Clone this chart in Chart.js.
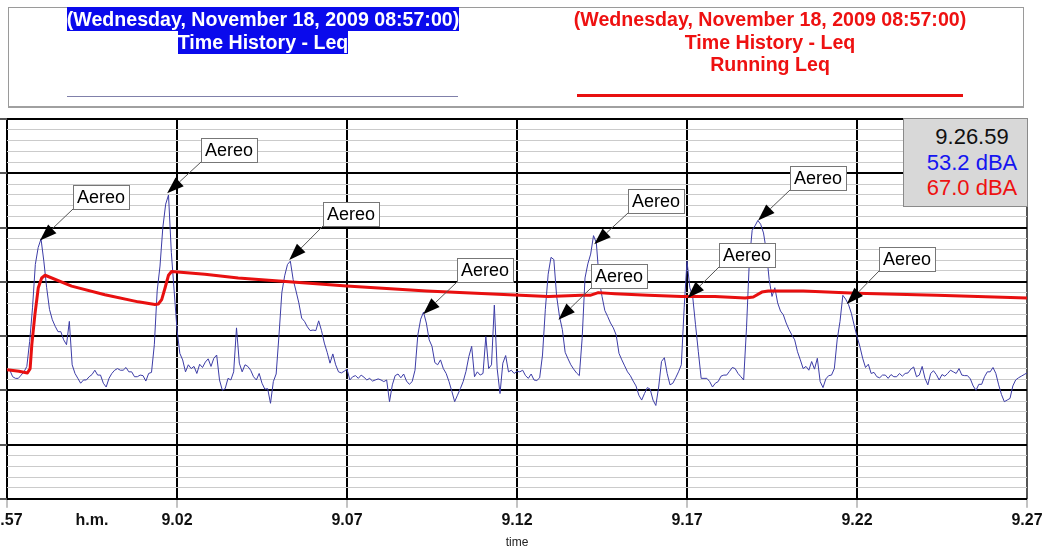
<!DOCTYPE html>
<html lang="en">
<head>
  <meta charset="UTF-8" />
  <title>Time History - Leq</title>
  <style>
    body {
      margin: 0;
      width: 1048px;
      height: 552px;
      overflow: hidden;
      background: #fff;
      font-family: 'Liberation Sans', Arial, sans-serif;
    }
    #chart { position: absolute; left: 0; top: 0; }
    .frame {
      position: absolute;
      left: 8px; top: 7px;
      width: 1016px; height: 101px;
      box-sizing: border-box;
      border: 1px solid #9a9a9a;
      border-bottom: 2px solid #a0a0a0;
    }
    .blk {
      position: absolute;
      top: 8px;
      width: 480px;
      text-align: center;
      font-size: 19.6px;
      font-weight: bold;
      line-height: 22.5px;
    }
    .blk.blue { left: 23px; color: #fff; }
    .blk.blue span { background: #0a0aec; padding: 1px 0; }
    .blk.red { left: 530px; color: #ee1111; }
    .ln { position: absolute; }
    .ln.blue { left: 67px; top: 96px; width: 391px; height: 1px; background: #8080aa; }
    .ln.red { left: 577px; top: 94px; width: 386px; height: 3px; background: #e81010; }
    .info {
      position: absolute;
      left: 903px; top: 118px;
      width: 125px; height: 89px;
      box-sizing: border-box;
      background: #d8d8d8;
      border: 1px solid #8a8a8a;
      padding: 5px 0 0 13px;
      text-align: center;
      font-size: 22px;
      line-height: 25.5px;
    }
  </style>
</head>
<body>
  <canvas id="chart" width="1048" height="552"></canvas>

  <div class="frame"></div>
  <div class="blk blue"><span>(Wednesday, November 18, 2009 08:57:00)</span><br><span>Time History - Leq</span></div>
  <div class="blk red">(Wednesday, November 18, 2009 08:57:00)<br>Time History - Leq<br>Running Leq</div>
  <div class="ln blue"></div>
  <div class="ln red"></div>
  <div class="info">
    <div style="color:#111">9.26.59</div>
    <div style="color:#1515f0">53.2 dBA</div>
    <div style="color:#ee1111">67.0 dBA</div>
  </div>

  <script src="https://cdn.jsdelivr.net/npm/chart.js"></script>
  <script>
    // x axis: minutes after 8.57, ticks every 5 min
    const xTickLabels = ['8.57', '9.02', '9.07', '9.12', '9.17', '9.22', '9.27'];

    // Leq time history, one value every 5 s (dBA)
    const sampleSeconds = 5;
    const leq = [
      53.9, 53.7, 52.5, 52.2, 52.2, 52.8, 53.4, 54.4, 59.0, 65.2,
      73.2, 76.3, 77.9, 73.8, 68.9, 64.9, 63.0, 61.8, 60.8, 60.8,
      59.3, 58.4, 62.7, 54.7, 53.1, 52.2, 51.3, 51.9, 51.9, 52.5,
      52.9, 53.7, 52.8, 52.8, 51.3, 50.6, 52.2, 53.1, 53.7, 54.0,
      53.7, 53.7, 54.2, 53.4, 53.4, 52.5, 52.5, 52.8, 52.7, 51.7,
      53.1, 53.3, 58.4, 68.3, 72.9, 80.0, 84.3, 86.0, 75.4, 68.3,
      61.2, 56.8, 55.6, 53.4, 54.7, 54.0, 54.4, 53.1, 54.8, 54.2,
      55.2, 55.8, 54.4, 55.9, 56.5, 51.9, 50.0, 50.3, 52.2, 51.9,
      53.4, 61.5, 55.0, 53.4, 54.7, 54.4, 53.7, 52.5, 51.9, 53.1,
      51.3, 50.2, 50.3, 47.6, 51.6, 53.0, 60.2, 68.0, 71.1, 73.2,
      73.8, 70.4, 68.3, 66.1, 63.3, 62.7, 61.7, 61.0, 61.1, 61.0,
      62.8, 61.0, 58.7, 57.0, 55.0, 56.7, 54.7, 53.4, 53.2, 53.5,
      53.9, 51.9, 52.5, 52.7, 52.2, 52.8, 52.4, 51.9, 52.2, 51.7,
      51.9, 52.1, 51.9, 51.6, 51.9, 47.9, 51.0, 52.7, 53.0, 52.3,
      53.0, 51.7, 51.1, 51.6, 53.7, 60.2, 63.1, 64.4, 62.4, 59.3,
      58.1, 55.1, 54.7, 55.6, 54.0, 53.1, 51.6, 49.8, 47.9, 49.1,
      50.3, 51.6, 53.5, 56.2, 58.1, 52.5, 53.4, 52.8, 53.1, 59.9,
      54.0, 54.7, 65.7, 54.0, 49.4, 55.0, 56.4, 53.4, 53.7, 53.1,
      53.5, 53.4, 53.7, 52.7, 52.2, 53.0, 51.9, 51.8, 52.3, 56.5,
      64.9, 71.4, 74.5, 74.1, 67.3, 63.6, 61.2, 57.0, 55.8, 54.7,
      53.9, 53.2, 52.7, 59.6, 70.7, 73.3, 75.1, 78.5, 77.2, 70.4,
      67.3, 64.7, 63.6, 62.4, 61.5, 60.2, 56.8, 55.6, 54.5, 53.4,
      52.7, 51.7, 50.8, 49.1, 48.2, 49.4, 50.5, 50.2, 48.2, 47.2,
      50.6, 55.3, 56.0, 53.1, 51.0, 51.3, 52.3, 53.4, 54.7, 65.2,
      73.8, 68.9, 67.3, 62.1, 57.1, 52.2, 52.2, 52.2, 51.6, 50.6,
      51.3, 51.6, 52.6, 52.8, 52.8, 53.5, 54.2, 54.0, 53.1, 52.5,
      51.9, 61.5, 73.8, 79.5, 80.3, 81.3, 80.6, 79.0, 75.7, 70.4,
      67.3, 68.9, 66.1, 64.6, 63.9, 62.4, 61.2, 60.2, 59.3, 57.1,
      55.6, 54.0, 54.4, 53.7, 55.3, 53.9, 55.9, 51.6, 50.5, 52.1,
      52.7, 52.8, 54.0, 59.3, 62.7, 67.5, 66.8, 65.8, 64.2, 62.0,
      59.9, 58.1, 55.9, 54.2, 54.8, 53.1, 53.3, 52.5, 52.3, 52.8,
      52.8, 52.2, 52.9, 52.5, 52.5, 53.1, 52.6, 53.1, 53.2, 53.9,
      54.3, 52.5, 52.8, 54.4, 52.2, 51.0, 53.1, 53.6, 52.9, 51.9,
      52.9, 52.6, 53.1, 53.7, 53.4, 53.1, 54.0, 52.8, 52.7, 52.7,
      52.1, 50.8, 50.0, 51.1, 51.1, 52.5, 53.4, 53.4, 54.2, 53.1,
      51.0, 49.2, 47.9, 48.2, 48.5, 50.8, 51.9, 52.3, 52.6, 52.9,
      53.2
    ];

    // Running Leq (minutes, dBA)
    const runMin = [0, 0.35, 0.6, 0.68, 0.73, 0.82, 0.92, 1.02, 1.12, 1.9, 2.88, 3.86, 4.35,
      4.45, 4.55, 4.65, 4.75, 4.84, 5.82, 6.8, 9.99, 12.34, 15.09, 15.92, 16.9, 17.15,
      17.39, 17.88, 18.86, 19.84, 20.82, 21.71, 21.95, 22.2, 22.39, 23.42, 24.99, 27.34, 30];
    const runLeq = [53.8, 53.5, 53.2, 54.0, 58.4, 63.9, 68.9, 70.7, 71.2, 69.2, 67.6, 66.3, 65.8,
      65.9, 66.7, 68.9, 71.2, 71.9, 71.4, 70.7, 69.2, 68.3, 67.5, 67.3, 67.5, 67.5,
      68.0, 67.8, 67.5, 67.3, 67.3, 67.0, 67.2, 68.1, 68.3, 68.3, 67.9, 67.5, 67.0];

    // "Aereo" markers: arrow tip and label corner (minutes, dBA)
    const aereoTipMin = [0.97, 4.71, 8.30, 12.24, 17.27, 16.22, 20.02, 22.09, 24.70];
    const aereoTipLeq = [77.6, 86.3, 74.0, 64.0, 76.9, 63.0, 67.0, 81.3, 65.9];
    const aereoBoxMin = [1.94, 5.71, 9.29, 13.24, 18.26, 17.18, 20.94, 23.03, 25.65];
    const aereoBoxLeq = [83.5, 92.0, 80.3, 70.0, 82.7, 68.8, 72.7, 87.0, 72.0];

    const FONT = "'Liberation Sans', Arial, sans-serif";

    const aereoPlugin = {
      id: 'aereo',
      afterDatasetsDraw(chart) {
        const { ctx, scales: { x, y } } = chart;
        ctx.save();
        ctx.font = '18px ' + FONT;
        aereoTipMin.forEach((t, i) => {
          const tx = x.getPixelForValue(t), ty = y.getPixelForValue(aereoTipLeq[i]);
          const bx = Math.round(x.getPixelForValue(aereoBoxMin[i]));
          const by = Math.round(y.getPixelForValue(aereoBoxLeq[i]));
          const a = Math.atan2(ty - by, tx - bx);
          const hl = 17, hw = 6;
          const hx = tx - hl * Math.cos(a), hy = ty - hl * Math.sin(a);
          ctx.strokeStyle = '#555';
          ctx.lineWidth = 1;
          ctx.beginPath();
          ctx.moveTo(bx, by);
          ctx.lineTo(hx, hy);
          ctx.stroke();
          ctx.fillStyle = '#000';
          ctx.beginPath();
          ctx.moveTo(tx, ty);
          ctx.lineTo(hx + hw * Math.sin(a), hy - hw * Math.cos(a));
          ctx.lineTo(hx - hw * Math.sin(a), hy + hw * Math.cos(a));
          ctx.closePath();
          ctx.fill();
          const w = 56, h = 24;
          ctx.fillStyle = '#fff';
          ctx.fillRect(bx, by - h, w, h);
          ctx.strokeStyle = '#777';
          ctx.strokeRect(bx + 0.5, by - h + 0.5, w, h);
          ctx.fillStyle = '#000';
          ctx.textAlign = 'center';
          ctx.textBaseline = 'middle';
          ctx.fillText('Aereo', bx + w / 2, by - h / 2 + 1);
        });
        ctx.restore();
      },
      afterDraw(chart) {
        // unit label between the first two time ticks
        const { ctx, scales: { x } } = chart;
        ctx.save();
        ctx.font = 'bold 16px ' + FONT;
        ctx.fillStyle = '#111';
        ctx.textAlign = 'center';
        ctx.textBaseline = 'middle';
        ctx.fillText('h.m.', x.getPixelForValue(2.5), x.top + 9 + 3 + 9.6);
        ctx.restore();
      }
    };

    new Chart(document.getElementById('chart'), {
      type: 'line',
      data: {
        datasets: [
          {
            label: 'Running Leq',
            data: runMin.map((t, i) => ({ x: t, y: runLeq[i] })),
            borderColor: '#e81010',
            borderWidth: 3,
            borderJoinStyle: 'round',
            pointRadius: 0,
            tension: 0
          },
          {
            label: 'Leq',
            data: leq.map((v, i) => ({ x: i * sampleSeconds / 60, y: v })),
            borderColor: '#3c3ca6',
            borderWidth: 1,
            pointRadius: 0,
            tension: 0
          }
        ]
      },
      options: {
        responsive: false,
        animation: false,
        devicePixelRatio: 1,
        layout: { padding: { top: 119, right: 21, left: 0, bottom: 0 } },
        plugins: { legend: { display: false }, tooltip: { enabled: false } },
        scales: {
          x: {
            type: 'linear',
            min: 0,
            max: 30,
            ticks: {
              stepSize: 5,
              autoSkip: false,
              maxRotation: 0,
              padding: 3,
              color: '#111',
              font: { family: FONT, size: 16, weight: 'bold' },
              callback: (v, i) => xTickLabels[i]
            },
            grid: {
              color: c => (c.tick && c.tick.value === 30 ? '#555' : '#000'),
              lineWidth: 2,
              tickColor: '#888',
              tickWidth: 1,
              tickLength: 9
            },
            border: { display: false },
            title: {
              display: true,
              text: 'time',
              color: '#222',
              font: { family: FONT, size: 12 },
              padding: { top: 2.6, bottom: 2 }
            },
            afterFit(scale) {
              scale.paddingLeft = 0;
              scale.paddingRight = 0;
            }
          },
          y: {
            min: 30,
            max: 100,
            ticks: { stepSize: 2, display: false },
            grid: {
              color: c => (c.tick && c.tick.value % 10 === 0 ? '#000' : '#cbcbcb'),
              lineWidth: c => (c.tick && c.tick.value % 10 === 0 ? 2 : 1),
              tickColor: c => (c.tick && c.tick.value % 10 === 0 ? '#555' : 'rgba(0,0,0,0)'),
              tickLength: 7
            },
            border: { display: false }
          }
        }
      },
      plugins: [aereoPlugin]
    });
  </script>
</body>
</html>
